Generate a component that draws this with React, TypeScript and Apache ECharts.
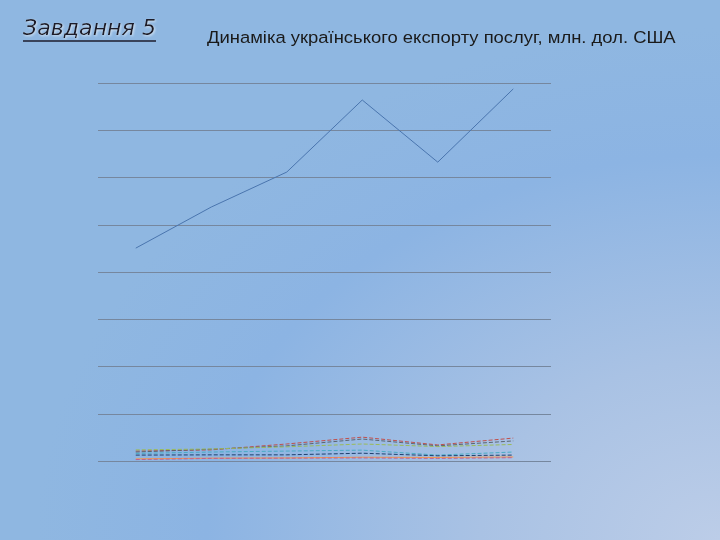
import React, { useEffect, useRef } from "react";
import * as echarts from "echarts";

const categories = ["1", "2", "3", "4", "5", "6"];

const seriesNames = [
  "Послуги усього",
  "Транспортні",
  "Ділові",
  "Подорожі",
  "Зв'язку",
  "Комп'ютерні",
  "Будівельні",
  "Інші",
];

const totalValues = [9010, 10750, 12230, 15280, 12650, 15750];
const redValues = [420, 470, 720, 1010, 680, 970];
const grayValues = [380, 500, 640, 930, 640, 850];
const greenValues = [470, 510, 600, 720, 610, 700];
const cyanValues = [320, 380, 420, 460, 250, 380];
const navyValues = [250, 260, 260, 330, 220, 250];
const orangeValues = [90, 120, 130, 160, 150, 170];
const pinkValues = [60, 110, 120, 130, 110, 140];

const yMax = 16000;
const yInterval = 2000;

const titleText = "Динаміка українського експорту послуг, млн. дол. США";
const headText = "Завдання 5";

function measure(text: string, font: string): number {
  const c = document.createElement("canvas");
  const ctx = c.getContext("2d");
  if (!ctx) return 0;
  ctx.font = font;
  return ctx.measureText(text).width;
}

export default function App() {
  const ref = useRef<HTMLDivElement>(null);
  useEffect(() => {
    if (!ref.current) return;
    const chart = echarts.init(ref.current, null, { renderer: "svg" });
    const titleW = measure(titleText, "17px 'Liberation Sans'") || 440;
    const titleScale = 469 / titleW;
    const headW = measure(headText, "italic 21px 'DejaVu Sans'") || 130;
    const headScale = 133 / headW;
    const mk = (name: string, data: number[], color: string, type: string, width = 1) => ({
      name,
      type: "line",
      data,
      symbol: "none",
      lineStyle: { color, width, type },
      z: 3,
    });
    chart.setOption({
      animation: false,
      backgroundColor: {
        type: "radial",
        x: 1,
        y: 1,
        r: 0.95,
        colorStops: [
          { offset: 0, color: "#bccde8" },
          { offset: 0.35, color: "#a9c2e4" },
          { offset: 0.75, color: "#8cb4e3" },
          { offset: 1, color: "#8fb7e1" },
        ],
      },
      graphic: [
        {
          type: "text",
          x: 23,
          y: 17,
          scaleX: headScale,
          style: {
            text: headText,
            fontFamily: "DejaVu Sans",
            fontStyle: "italic",
            fontSize: 21,
            fill: "#1c1c2c",
            textShadowColor: "rgba(255,255,255,0.6)",
            textShadowBlur: 2,
            textShadowOffsetX: 1,
            textShadowOffsetY: 1,
          },
        },
        {
          type: "line",
          shape: { x1: 23, y1: 41, x2: 156, y2: 41 },
          style: { stroke: "#1c1c2c", lineWidth: 1.5 },
        },
        {
          type: "text",
          x: 207,
          y: 29,
          scaleX: titleScale,
          style: {
            text: titleText,
            fontFamily: "Liberation Sans",
            fontSize: 17,
            fill: "#1a1a1a",
          },
        },
      ],
      grid: { left: 98, right: 169, top: 83, bottom: 79 },
      xAxis: {
        type: "category",
        data: categories,
        boundaryGap: true,
        axisLine: { show: false },
        axisTick: { show: false },
        axisLabel: { show: false },
      },
      yAxis: {
        type: "value",
        min: 0,
        max: yMax,
        interval: yInterval,
        axisLabel: { show: false },
        axisLine: { show: false },
        axisTick: { show: false },
        splitLine: { lineStyle: { color: "#76879e", width: 1 } },
      },
      series: [
        mk(seriesNames[0], totalValues, "#4a75ae", "solid"),
        mk(seriesNames[1], redValues, "#c0504d", "dashed"),
        mk(seriesNames[2], grayValues, "#5a6470", "dashed"),
        mk(seriesNames[3], greenValues, "#9bbb59", "dashed"),
        mk(seriesNames[4], cyanValues, "#4bacc6", "dashed"),
        mk(seriesNames[5], navyValues, "#1f3f6d", "dashed"),
        mk(seriesNames[6], orangeValues, "#f79646", "solid"),
        mk(seriesNames[7], pinkValues, "#c06090", "dashed"),
      ],
    });
    return () => chart.dispose();
  }, []);
  return (
    <div
      ref={ref}
      style={{ position: "fixed", left: 0, top: 0, width: 720, height: 540 }}
    />
  );
}
